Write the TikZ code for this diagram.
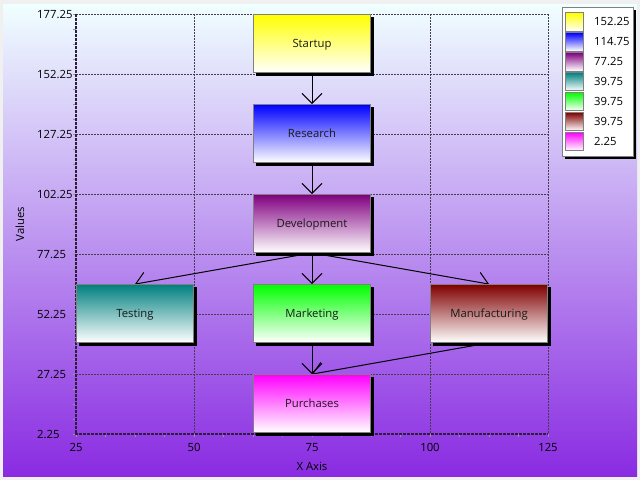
\documentclass[tikz,border=0pt]{standalone}
\usepackage{fontspec}
\setmainfont{Open Sans}
\usetikzlibrary{arrows.meta}
\pgfdeclarelayer{bg}
\pgfdeclarelayer{shadowlayer}
\pgfdeclarelayer{edges}
\pgfsetlayers{bg,shadowlayer,edges,main}
\definecolor{outerc}{RGB}{240,240,240}
\definecolor{bgtop}{RGB}{240,255,255}
\definecolor{bgbot}{RGB}{138,43,226}
\definecolor{gridc}{RGB}{70,60,80}
\definecolor{axisc}{RGB}{45,30,60}
\definecolor{tickc}{RGB}{150,150,150}
\definecolor{txtc}{RGB}{25,25,25}
\definecolor{cyel}{RGB}{255,255,0}
\definecolor{cblu}{RGB}{0,0,255}
\definecolor{cpur}{RGB}{128,0,128}
\definecolor{cteal}{RGB}{0,128,128}
\definecolor{clime}{RGB}{0,255,0}
\definecolor{cmar}{RGB}{128,0,0}
\definecolor{cmag}{RGB}{255,0,255}
\begin{document}
\begin{tikzpicture}[x=1pt,y=-1pt,
  font=\fontsize{11.3}{13}\selectfont,
  flowbox/.style={draw=gray, line width=0.8pt, minimum width=117pt,
    minimum height=58pt, inner sep=0pt, top color=#1, bottom color=white,
    text=txtc, text height=8.1pt, text depth=0pt},
  boxshadow/.style={fill=black},
  flowarrow/.style={draw=black, line width=1pt,
    -{Straight Barb[length=10pt,width=20pt,line width=1pt]}},
  gridline/.style={draw=gridc, line width=1pt, dash pattern=on 2pt off 1pt},
  axisline/.style={draw=axisc, line width=2pt, dash pattern=on 3pt off 1pt},
  minortick/.style={draw=tickc, line width=1pt},
  swatch/.style={draw=gray, line width=0.8pt, top color=#1, bottom color=white},
  ticklabel/.style={text=black, inner sep=0pt, text height=8.1pt, text depth=0pt},
  legendlabel/.style={text=black, inner sep=0pt, anchor=west, text height=8.1pt, text depth=0pt}]
\useasboundingbox (0,0) rectangle (640,480);

\begin{pgfonlayer}{bg}
  \fill[outerc] (0,0) rectangle (640,480);
  \shade[top color=bgtop, bottom color=bgbot] (3,4) rectangle (637,476);
  % grid
  \foreach \k in {0,...,6} {\draw[gridline] (76,14+60*\k) -- (548,14+60*\k);}
  \foreach \k in {1,...,4} {\draw[gridline] (76+118*\k,14) -- (76+118*\k,434);}
  % minor ticks
  \foreach \k in {0,...,28} {\draw[minortick] (73,14+15*\k) -- (76,14+15*\k);}
  \foreach \k in {0,...,16} {\draw[minortick] (76+29.5*\k,434) -- (76+29.5*\k,437);}
  % axes
  \draw[axisline] (76,14) -- (76,435);
  \draw[axisline] (75,434) -- (548,434);
\end{pgfonlayer}

% tick labels
\foreach \v [count=\i from 0] in {177.25,152.25,127.25,102.25,77.25,52.25,27.25,2.25}
  {\node[ticklabel, anchor=west] (yl\i) at (37,14+60*\i) {\v};}
\foreach \v [count=\i from 0] in {25,50,75,100,125}
  {\node[ticklabel] (xl\i) at (76+118*\i,447) {\v};}
\node[ticklabel, rotate=90] (ytitle) at (20,224) {Values};
\node[ticklabel] (xtitle) at (312,466) {X Axis};

% boxes
\node[flowbox=cyel] (startup) at (312,43.5) {Startup};
\node[flowbox=cblu] (research) at (312,133.5) {Research};
\node[flowbox=cpur] (devel) at (312,223.5) {Development};
\node[flowbox=cteal] (testing) at (135,313.5) {Testing};
\node[flowbox=clime] (marketing) at (312,313.5) {Marketing};
\node[flowbox=cmar] (manuf) at (489,313.5) {Manufacturing};
\node[flowbox=cmag] (purch) at (312,403.5) {Purchases};

% shadows
\begin{pgfonlayer}{shadowlayer}
  \foreach \n in {startup,research,devel,testing,marketing,manuf,purch}
    {\fill[boxshadow] ([shift={(2.8,2.6)}]\n.north west) rectangle ([shift={(2.8,2.6)}]\n.south east);}
\end{pgfonlayer}

% connectors
\begin{pgfonlayer}{edges}
  \draw[flowarrow] (startup.south) -- (research.north);
  \draw[flowarrow] (research.south) -- (devel.north);
  \draw[flowarrow] (devel.south) -- (testing.north);
  \draw[flowarrow] (devel.south) -- (marketing.north);
  \draw[flowarrow] (devel.south) -- (manuf.north);
  \draw[flowarrow] (marketing.south) -- (purch.north);
  \draw[flowarrow] (manuf.south) -- (purch.north);
\end{pgfonlayer}

% legend
\fill[black] (565,10) rectangle (636,159);
\draw[gray, fill=white, line width=0.8pt] (562,7) rectangle (633,156);
\foreach \c/\v [count=\i from 0] in {cyel/152.25,cblu/114.75,cpur/77.25,
    cteal/39.75,clime/39.75,cmar/39.75,cmag/2.25}
  {\path[swatch=\c] (565,12.7+19.95*\i) rectangle (583,31+19.95*\i);
   \node[legendlabel] (lg\i) at (594,21.85+19.95*\i) {\v};}
\end{tikzpicture}
\end{document}
